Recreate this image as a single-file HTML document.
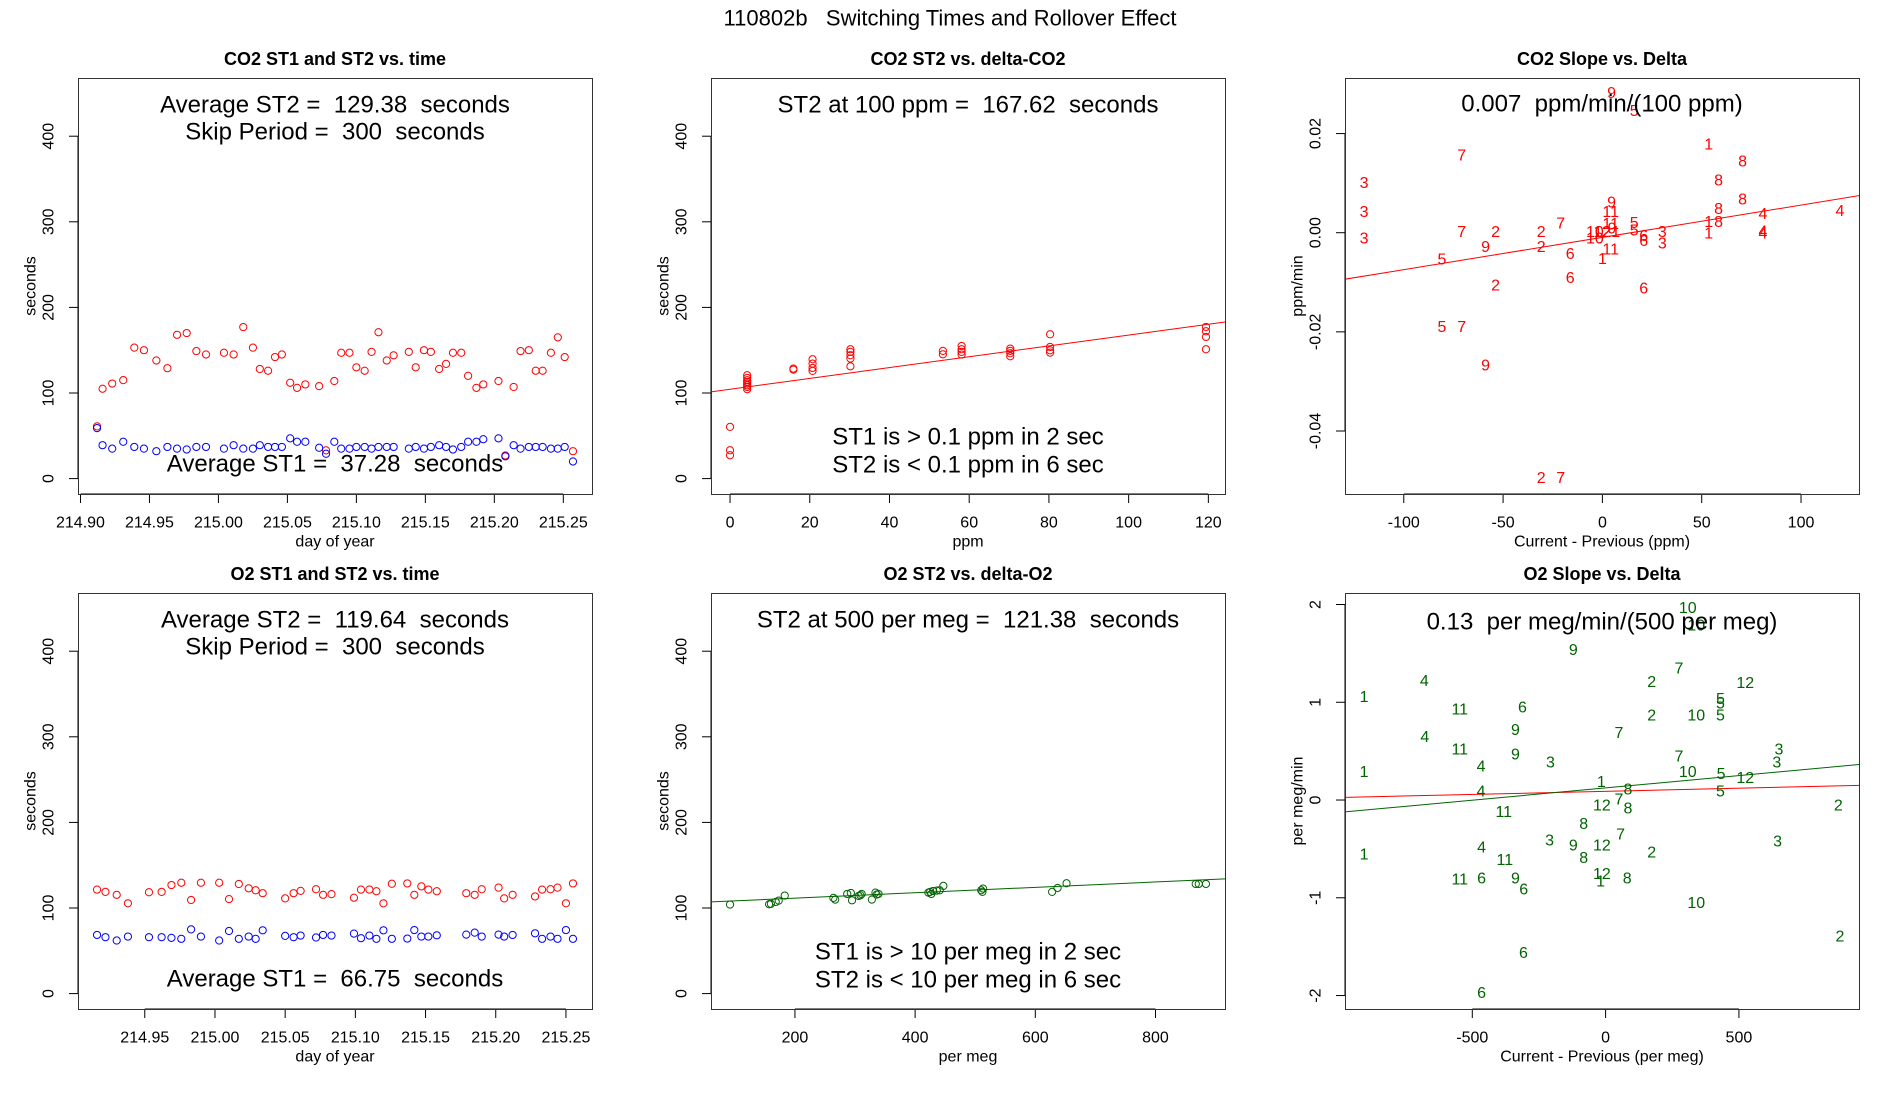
<!DOCTYPE html>
<html><head><meta charset="utf-8"><title>110802b Switching Times and Rollover Effect</title>
<style>
html,body{margin:0;padding:0;background:#fff;}
svg{display:block;font-family:"Liberation Sans",sans-serif;}
text{white-space:pre;}
</style></head>
<body>
<svg id="fig" width="1900" height="1100" viewBox="0 0 1900 1100" xmlns="http://www.w3.org/2000/svg">
<rect x="0" y="0" width="1900" height="1100" fill="#fff"/>
<text x="950" y="18" font-size="22" text-anchor="middle" dominant-baseline="central">110802b   Switching Times and Rollover Effect</text>
</svg>
<script>
// ---------- Panel 1: CO2 ST1/ST2 vs time ----------
const co2Days=[214.912,214.916,214.923,214.931,214.939,214.946,214.955,214.963,214.970,214.977,214.984,214.991,215.004,215.011,215.018,215.025,215.030,215.036,215.041,215.046,215.052,215.057,215.063,215.073,215.078,215.084,215.089,215.095,215.100,215.106,215.111,215.116,215.122,215.127,215.138,215.143,215.149,215.154,215.160,215.165,215.170,215.176,215.181,215.187,215.192,215.203,215.208,215.214,215.219,215.225,215.230,215.235,215.241,215.246,215.251,215.257];
const co2ST2=[61,105,111,115,153,150,138,129,168,170,149,145,147,145,177,153,128,126,142,145,112,106,110,108,33,114,147,147,130,126,148,171,138,144,148,130,150,148,128,134,147,147,120,106,110,114,27,107,149,150,126,126,147,165,142,32];
const co2ST1=[59,39,35,43,37,35,32,37,35,34,37,37,35,39,35,35,39,37,37,37,47,43,43,36,29,43,35,35,37,37,35,37,37,37,35,37,35,37,39,37,34,37,43,43,46,47,26,39,35,37,37,37,35,35,37,20];
const timeTicks1=[214.90,214.95,215.00,215.05,215.10,215.15,215.20,215.25];
const secTicks=[0,100,200,300,400];
const secLim=[0,450];
// ---------- Panel 2: CO2 ST2 vs delta ----------
const co2Delta=[0,0,0,4.3,4.3,4.3,4.3,4.3,4.3,4.3,4.3,15.9,15.9,20.7,20.7,20.7,20.7,30.2,30.2,30.2,30.2,30.2,53.4,53.4,58.1,58.1,58.1,58.1,70.3,70.3,70.3,70.3,80.3,80.3,80.3,80.3,119.4,119.4,119.4,119.4];
const co2DeltaST2=[60.4,33.1,27.3,120.7,117.6,114.9,112.9,111,109,107.1,104.4,128.5,127.3,139.4,134.3,129.3,125.8,151.1,148,144.1,140.2,131.2,149.2,145.2,155,151.1,148,144.9,151.9,149.2,146.4,142.9,168.6,153.8,149.9,147.2,177.2,172.1,165.5,151.1];
const co2Fit=[104.36,0.6326];
const ppmTicks=[0,20,40,60,80,100,120];
// ---------- Panel 3: CO2 slope vs delta ----------
const co2SlopeX=[4.6,16,53.5,-70.8,70.6,-120,58.5,70.6,4.6,-120,58.5,4.2,80.8,119.6,-21,16,4.2,53.5,58.5,-120,-70.8,-53.8,-30.8,-3.8,0,-3.8,2,4.8,6.7,16,20.8,20.8,30.2,30.2,53.5,80.8,80.8,-58.8,-30.8,-16.2,4.2,0,-80.8,-16.2,-53.8,20.8,-80.8,-70.8,-58.8,-30.8,-21];
const co2SlopeY=[0.0281,0.0244,0.0177,0.0155,0.0143,0.0099,0.0104,0.0066,0.006,0.0041,0.0047,0.0041,0.0037,0.0043,0.0018,0.0019,0.0017,0.0021,0.0021,-0.0013,0,0,0,0,0,-0.0013,0,0.0007,0,0.0003,-0.0008,-0.0018,0,-0.0023,-0.0003,0.0001,-0.0003,-0.003,-0.003,-0.0044,-0.0035,-0.0054,-0.0055,-0.0092,-0.0108,-0.0114,-0.0191,-0.0191,-0.0269,-0.0496,-0.0496];
const co2SlopeLab=['9','5','1','7','8','3','8','8','9','3','8','11','4','4','7','5','11','1','8','3','7','2','2','10','12','10','2','9','1','5','6','6','3','3','1','4','4','9','2','6','11','1','5','6','2','6','5','7','9','2','7'];
const co2SlopeFit=[-0.00094,0.0000651];
const co2SlopeXTicks=[-100,-50,0,50,100];
const co2SlopeYTicks=[0.02,0.00,-0.02,-0.04];
const co2SlopeYTickLab=['0.02','0.00','-0.02','-0.04'];
// ---------- Panel 4: O2 ST1/ST2 vs time ----------
const o2Days=[214.916,214.922,214.930,214.938,214.953,214.962,214.969,214.976,214.983,214.990,215.003,215.010,215.017,215.024,215.029,215.034,215.050,215.056,215.061,215.072,215.077,215.083,215.099,215.104,215.110,215.115,215.120,215.126,215.137,215.142,215.147,215.152,215.158,215.179,215.185,215.190,215.202,215.206,215.212,215.228,215.233,215.239,215.244,215.250,215.255];
const o2ST2=[121.5,118.8,115.4,105.5,118.4,118.8,126.8,129.5,109.3,129.5,129.5,110.4,128,123,120.7,117.3,111.2,117.3,120,121.9,115.4,116.2,112,121.5,121.5,119.6,105.5,128.3,128.7,115.4,125.3,121.5,119.6,117.3,115.4,121.9,123.8,111.2,115.4,113.5,121.5,121.9,123.8,105.5,128.7];
const o2ST1=[68.5,65.9,62,66.6,65.9,65.9,65.1,64,75,66.6,62,73.1,64,66.6,64,73.9,67.4,65.9,67.8,65.5,68.5,67.8,70.1,64.7,67.8,64,73.9,64,64.3,74.2,66.6,66.6,68.1,68.9,71.2,66.6,68.9,66.6,68.5,70.4,64,66.6,64,74.2,64];
const timeTicks2=[214.95,215.00,215.05,215.10,215.15,215.20,215.25];
// ---------- Panel 5: O2 ST2 vs delta ----------
const o2Delta=[92,157,160,168,173,183,264,267,287,293,295,306,309,311,328,334,336,339,422,425,427,430,436,441,447,510,513,512,628,637,652,867,872,884];
const o2DeltaST2=[104.0,104.4,104.8,107.1,108.6,114.5,111.8,109.8,116.4,117.6,109.0,114.1,114.9,116.4,109.8,118.0,115.7,116.4,118.0,118.8,116.4,119.9,120.3,120.7,125.8,120.7,122.7,118.8,118.8,123.4,128.9,128.1,128.1,128.1];
const o2Fit=[105.2,0.03155];
const perMegTicks=[200,400,600,800];
// ---------- Panel 6: O2 slope vs delta ----------
const o2SlopeX=[308,340,-121,275,-680,173,524,-906,431,431,-547,-312,173,340,431,-338,50,-678,-547,650,-338,275,-207,642,-467,-906,308,433,524,-16,84,-467,431,50,-14,84,873,-382,-82,56,-210,645,-121,-14,-465,-906,173,-82,-378,-14,-19,81,-547,-465,-338,-307,340,879,-308,-465];
const o2SlopeY=[1.96,1.78,1.53,1.34,1.21,1.20,1.19,1.05,1.03,0.98,0.92,0.94,0.86,0.86,0.86,0.71,0.68,0.64,0.51,0.51,0.46,0.44,0.38,0.38,0.34,0.28,0.28,0.26,0.22,0.18,0.10,0.08,0.08,0.00,-0.06,-0.09,-0.06,-0.13,-0.25,-0.36,-0.42,-0.43,-0.47,-0.47,-0.49,-0.56,-0.54,-0.60,-0.62,-0.76,-0.84,-0.81,-0.82,-0.81,-0.81,-0.92,-1.06,-1.40,-1.57,-1.98];
const o2SlopeLab=['10','10','9','7','4','2','12','1','5','5','11','6','2','10','5','9','7','4','11','3','9','7','3','3','4','1','10','5','12','1','8','4','5','7','12','8','2','11','8','7','3','3','9','12','4','1','2','8','11','12','1','8','11','6','9','6','10','2','6','6'];
const o2SlopeFitGreen=[0.124,0.0002515];
const o2SlopeFitRed=[0.089,0.0000636];
const o2SlopeXTicks=[-500,0,500];
const o2SlopeYTicks=[2,1,0,-1,-2];

const NS='http://www.w3.org/2000/svg';
const svg=document.getElementById('fig');
function mk(tag,attrs,parent){const e=document.createElementNS(NS,tag);for(const k in attrs)e.setAttribute(k,attrs[k]);(parent||svg).appendChild(e);return e;}
function ext(a){let mn=Math.min(...a),mx=Math.max(...a);const d=(mx-mn)*0.04;return [mn-d,mx+d];}
function ext2(mn,mx){const d=(mx-mn)*0.04;return [mn-d,mx+d];}

function panel(o){
  const g=mk('g',{});
  
  
  const L=o.l,T=o.t,Wd=514,H=416;
  const xs=v=>L+(v-o.xlim[0])/(o.xlim[1]-o.xlim[0])*Wd;
  const ys=v=>T+H-(v-o.ylim[0])/(o.ylim[1]-o.ylim[0])*H;
  const cx=L+Wd/2;
  const t=mk('text',{x:cx,y:T-19,'font-size':18,'font-weight':'bold','text-anchor':'middle','dominant-baseline':'central'},g);
  t.textContent=o.title;
  
  
  const clipId='c'+o.id;
  const cp=mk('clipPath',{id:clipId},g);
  mk('rect',{x:L,y:T,width:Wd,height:H},cp);
  const plot=mk('g',{'clip-path':'url(#'+clipId+')'},g);
  
  
  const xa=mk('g',{},g);
  
  
  const xt=o.xticks;
  mk('line',{x1:xs(xt[0]),x2:xs(xt[xt.length-1]),y1:T+H,y2:T+H,stroke:'#000','stroke-width':1},xa);
  xt.forEach((v,i)=>{
    mk('line',{x1:xs(v),x2:xs(v),y1:T+H,y2:T+H+9,stroke:'#000','stroke-width':1},xa);
    const tx=mk('text',{x:xs(v),y:T+H+29,'font-size':16,'text-anchor':'middle','dominant-baseline':'central'},xa);
    tx.textContent=o.xlab?o.xlab[i]:String(v);
    
    
  });
  const xl=mk('text',{x:cx,y:T+H+48,'font-size':16,'text-anchor':'middle','dominant-baseline':'central'},xa);
  xl.textContent=o.xtitle;
  
  
  const ya=mk('g',{},g);
  
  
  const yt=o.yticks;
  mk('line',{x1:L,x2:L,y1:ys(yt[0]),y2:ys(yt[yt.length-1]),stroke:'#000','stroke-width':1},ya);
  yt.forEach((v,i)=>{
    mk('line',{x1:L-9,x2:L,y1:ys(v),y2:ys(v),stroke:'#000','stroke-width':1},ya);
    const ty=mk('text',{x:L-29,y:ys(v),'font-size':16,'text-anchor':'middle','dominant-baseline':'central',transform:'rotate(-90 '+(L-29)+' '+ys(v)+')'},ya);
    ty.textContent=o.ylab?o.ylab[i]:String(v);
    
    
  });
  const yl=mk('text',{x:L-47,y:T+H/2,'font-size':16,'text-anchor':'middle','dominant-baseline':'central',transform:'rotate(-90 '+(L-47)+' '+(T+H/2)+')'},ya);
  yl.textContent=o.ytitle;
  
  
  const bx=mk('rect',{x:L+0.5,y:T+0.5,width:Wd,height:H,fill:'none',stroke:'#333','stroke-width':1},g);
  
  
  (o.notes||[]).forEach(n=>{
    const a=mk('text',{x:cx,y:T+n[1],'font-size':24,'text-anchor':'middle','dominant-baseline':'central'},g);
    a.textContent=n[0];
    
    
  });
  return {xs,ys,plot,L,Wd};
}
function circles(P,xa,ya,col,name){
  xa.forEach((v,i)=>{
    const c=mk('circle',{cx:P.xs(v),cy:P.ys(ya[i]),r:3.6,fill:'none',stroke:col,'stroke-width':1},P.plot);
    
    
  });
}
function labels(P,xa,ya,lab,col,name){
  xa.forEach((v,i)=>{
    const t=mk('text',{x:P.xs(v),y:P.ys(ya[i]),fill:col,'font-size':16,'text-anchor':'middle','dominant-baseline':'central'},P.plot);
    t.textContent=lab[i];
    
    
  });
}
function fitLine(P,coef,x0,x1,col,name){
  const l=mk('line',{x1:P.xs(x0),y1:P.ys(coef[0]+coef[1]*x0),x2:P.xs(x1),y2:P.ys(coef[0]+coef[1]*x1),stroke:col,'stroke-width':1},P.plot);
  
  
}
const secY=ext2(secLim[0],secLim[1]);
const fmt=v=>v.toFixed(2);

const P1=panel({id:1,name:'co2-time-panel',l:78,t:78,title:'CO2 ST1 and ST2 vs. time',xlim:ext(co2Days),ylim:secY,xticks:timeTicks1,xlab:timeTicks1.map(fmt),yticks:secTicks,xtitle:'day of year',ytitle:'seconds',
  notes:[['Average ST2 =  129.38  seconds',27],['Skip Period =  300  seconds',54],['Average ST1 =  37.28  seconds',386]]});
circles(P1,co2Days,co2ST2,'#ff0000','co2-st2-point');
circles(P1,co2Days,co2ST1,'#0000ff','co2-st1-point');

const P2=panel({id:2,name:'co2-delta-panel',l:711,t:78,title:'CO2 ST2 vs. delta-CO2',xlim:ext(co2Delta),ylim:secY,xticks:ppmTicks,yticks:secTicks,xtitle:'ppm',ytitle:'seconds',
  notes:[['ST2 at 100 ppm =  167.62  seconds',27],['ST1 is > 0.1 ppm in 2 sec',359],['ST2 is < 0.1 ppm in 6 sec',387]]});
fitLine(P2,co2Fit,-20,140,'#ff0000','co2-fit-line');
circles(P2,co2Delta,co2DeltaST2,'#ff0000','co2-delta-point');

const P3=panel({id:3,name:'co2-slope-panel',l:1345,t:78,title:'CO2 Slope vs. Delta',xlim:ext(co2SlopeX),ylim:ext(co2SlopeY),xticks:co2SlopeXTicks,yticks:co2SlopeYTicks,ylab:co2SlopeYTickLab,xtitle:'Current - Previous (ppm)',ytitle:'ppm/min',
  notes:[['0.007  ppm/min/(100 ppm)',26]]});
fitLine(P3,co2SlopeFit,-200,200,'#ff0000','co2-slope-fit-line');
labels(P3,co2SlopeX,co2SlopeY,co2SlopeLab,'#ff0000','co2-slope-label');

const P4=panel({id:4,name:'o2-time-panel',l:78,t:593,title:'O2 ST1 and ST2 vs. time',xlim:ext(o2Days),ylim:secY,xticks:timeTicks2,xlab:timeTicks2.map(fmt),yticks:secTicks,xtitle:'day of year',ytitle:'seconds',
  notes:[['Average ST2 =  119.64  seconds',27],['Skip Period =  300  seconds',54],['Average ST1 =  66.75  seconds',386]]});
circles(P4,o2Days,o2ST2,'#ff0000','o2-st2-point');
circles(P4,o2Days,o2ST1,'#0000ff','o2-st1-point');

const P5=panel({id:5,name:'o2-delta-panel',l:711,t:593,title:'O2 ST2 vs. delta-O2',xlim:ext(o2Delta),ylim:secY,xticks:perMegTicks,yticks:secTicks,xtitle:'per meg',ytitle:'seconds',
  notes:[['ST2 at 500 per meg =  121.38  seconds',27],['ST1 is > 10 per meg in 2 sec',359],['ST2 is < 10 per meg in 6 sec',387]]});
fitLine(P5,o2Fit,-100,1100,'#006400','o2-fit-line');
circles(P5,o2Delta,o2DeltaST2,'#006400','o2-delta-point');

const P6=panel({id:6,name:'o2-slope-panel',l:1345,t:593,title:'O2 Slope vs. Delta',xlim:ext(o2SlopeX),ylim:ext(o2SlopeY),xticks:o2SlopeXTicks,yticks:o2SlopeYTicks,xtitle:'Current - Previous (per meg)',ytitle:'per meg/min',
  notes:[['0.13  per meg/min/(500 per meg)',29]]});
fitLine(P6,o2SlopeFitRed,-1200,1200,'#ff0000','o2-slope-fit-red');
fitLine(P6,o2SlopeFitGreen,-1200,1200,'#006400','o2-slope-fit-green');
labels(P6,o2SlopeX,o2SlopeY,o2SlopeLab,'#006400','o2-slope-label');
</script>
</body></html>
